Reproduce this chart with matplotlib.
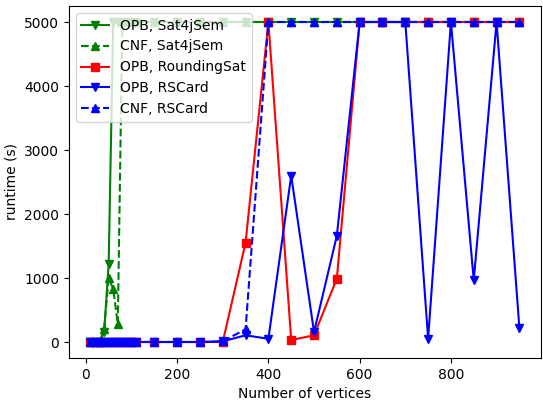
import matplotlib
matplotlib.use('Agg')
import matplotlib.pyplot as plt

# x values (number of vertices)
vertices = [10, 20, 30, 40, 50, 60, 70, 80, 90, 100, 110,
            150, 200, 250, 300, 350, 400, 450, 500, 550, 600,
            650, 700, 750, 800, 850, 900, 950]

# runtimes in seconds (5000 = timeout)
opb_sat4j = [0, 0, 0, 150, 1220, 5000, 5000, 5000, 5000, 5000, 5000,
             5000, 5000, 5000, 5000, 5000, 5000, 5000, 5000, 5000, 5000,
             5000, 5000, 5000, 5000, 5000, 5000, 5000]
cnf_sat4j = [0, 0, 0, 200, 1000, 830, 280, 5000, 5000, 5000, 5000,
             5000, 5000, 5000, 5000, 5000, 5000, 5000, 5000, 5000, 5000,
             5000, 5000, 5000, 5000, 5000, 5000, 5000]
opb_rsat = [0, 0, 0, 0, 0, 0, 0, 0, 0, 0, 0,
            0, 0, 0, 0, 1550, 5000, 30, 105, 990, 5000,
            5000, 5000, 5000, 5000, 5000, 5000, 5000]
opb_rscard = [0, 0, 0, 0, 0, 0, 0, 0, 0, 0, 0,
              0, 0, 0, 10, 105, 50, 2600, 155, 1660, 5000,
              5000, 5000, 50, 5000, 965, 5000, 220]
cnf_rscard = [0, 0, 0, 0, 0, 0, 0, 0, 0, 0, 0,
              0, 0, 0, 10, 200, 5000, 5000, 5000, 5000, 5000,
              5000, 5000, 5000, 5000, 5000, 5000, 5000]

fig = plt.figure(figsize=(5.43, 4.0), dpi=100)
ax = fig.add_subplot(111)

ax.plot(vertices, opb_sat4j, 'g-v', label='OPB, Sat4jSem')
ax.plot(vertices, cnf_sat4j, 'g--^', label='CNF, Sat4jSem')
ax.plot(vertices, opb_rsat, 'r-s', label='OPB, RoundingSat')
ax.plot(vertices, opb_rscard, 'b-v', label='OPB, RSCard')
ax.plot(vertices, cnf_rscard, 'b--^', label='CNF, RSCard')

ax.set_xlabel('Number of vertices')
ax.set_ylabel('runtime (s)')
ax.legend(loc='upper left')

plt.subplots_adjust(left=0.127, right=0.996, top=0.985, bottom=0.105)
plt.savefig('out.png', dpi=100)
